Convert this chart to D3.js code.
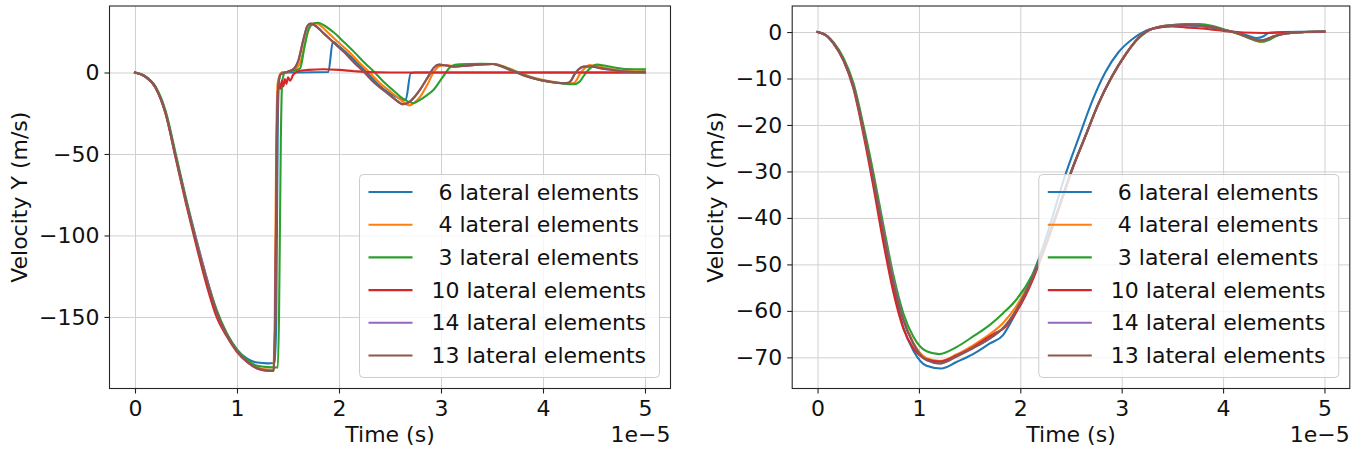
<!DOCTYPE html>
<html>
<head>
<meta charset="utf-8">
<script src="https://cdn.jsdelivr.net/npm/d3@7"></script>
<style>
  body { margin: 0; background: #fff; }
  svg { display: block; font-family: "DejaVu Sans", sans-serif; }
</style>
</head>
<body>
<script>
// time is in units of 1e-5 s (shown by the "1e−5" offset text)
const labels = ["\u00a06 lateral elements", "\u00a04 lateral elements", "\u00a03 lateral elements",
                "10 lateral elements", "14 lateral elements", "13 lateral elements"];
const xTicks = [0, 1, 2, 3, 4, 5];
const leftYTicks = [0, -50, -100, -150];
const rightYTicks = [0, -10, -20, -30, -40, -50, -60, -70];

// ---- left panel series [t, vy]
const left6 = [[0,0],[0.1,-2.5],[0.2,-9],[0.3,-24.5],[0.4,-51.5],[0.5,-78.5],[0.6,-103.5],[0.7,-126.5],[0.8,-146.5],[0.9,-160.5],[1.0,-170],[1.1,-175.5],[1.2,-178],[1.3,-178.5],[1.37,-178.3],[1.385,-150],[1.40,-30],[1.415,-3],[1.44,0],[1.6,0],[1.895,0.3],[1.94,18.8],[2.0,16],[2.1,10.5],[2.2,4.5],[2.28,-0.5],[2.38,-7],[2.48,-12],[2.58,-15.5],[2.654,-16.8],[2.703,-0.4],[2.75,0],[5.0,0]];
const left4 = [[0,0],[0.1,-2.5],[0.2,-9],[0.3,-24.5],[0.4,-51.5],[0.5,-78.5],[0.6,-103.5],[0.7,-126.5],[0.8,-146.5],[0.9,-160.5],[1.0,-170.5],[1.1,-177],[1.2,-181],[1.3,-182.3],[1.355,-182.5],[1.37,-150],[1.385,-40],[1.40,-6],[1.43,-0.5],[1.5,0.5],[1.57,2],[1.62,6],[1.67,19],[1.72,28.5],[1.765,30.3],[1.8,29.5],[1.9,24],[2.0,18.2],[2.1,12.5],[2.2,6],[2.3,0],[2.4,-6.5],[2.5,-11.5],[2.6,-16.5],[2.69,-20.2],[2.74,-18.5],[2.8,-14.5],[2.87,-7],[2.93,0.5],[3.0,4.2],[3.06,4.6],[3.13,3.8],[3.25,4.2],[3.4,5],[3.53,5.2],[3.63,3.4],[3.73,1],[3.83,-1.5],[3.93,-3.5],[4.03,-5],[4.13,-6],[4.24,-6.9],[4.30,-6.5],[4.33,-4.5],[4.36,-1],[4.40,2],[4.46,4.5],[4.52,4],[4.6,3],[4.7,1.8],[4.85,0.9],[5.0,0.7]];
const left3 = [[0,0],[0.1,-2.2],[0.2,-8.5],[0.3,-23.5],[0.4,-50],[0.5,-77],[0.6,-102],[0.7,-125.5],[0.8,-145.5],[0.9,-160],[1.0,-170],[1.1,-176.5],[1.2,-180],[1.3,-180.8],[1.40,-181],[1.412,-150],[1.43,-40],[1.443,-6],[1.47,0],[1.55,1],[1.618,2.5],[1.66,15],[1.70,26.5],[1.75,30],[1.797,30.5],[1.85,29],[1.95,24.5],[2.05,18.5],[2.15,12.5],[2.25,6],[2.35,0],[2.45,-6.5],[2.55,-12],[2.65,-17],[2.73,-18.8],[2.794,-16.8],[2.86,-14],[2.925,-10.7],[3.02,-2.5],[3.104,4],[3.18,5],[3.284,5.2],[3.40,5.3],[3.51,5.2],[3.6,3.8],[3.676,1.9],[3.775,-0.5],[3.87,-2.8],[3.97,-4.6],[4.07,-5.8],[4.17,-6.6],[4.30,-7.2],[4.36,-5.6],[4.40,-2],[4.43,0.5],[4.47,3],[4.526,4.8],[4.60,4.3],[4.657,3.6],[4.75,2.6],[4.82,2.1],[5.0,1.9]];
const left10 = [[0,0],[0.1,-2.5],[0.2,-9.2],[0.3,-25.5],[0.4,-53],[0.5,-80.5],[0.6,-106],[0.7,-130],[0.8,-150],[0.9,-162],[1.0,-171.5],[1.1,-177.8],[1.2,-181.8],[1.3,-183],[1.36,-183],[1.375,-150],[1.39,-50],[1.40,-14],[1.41,-6],[1.425,-10],[1.44,-5],[1.455,-8.5],[1.47,-4],[1.485,-7],[1.50,-3],[1.52,-5],[1.55,-1.5],[1.6,0.8],[1.7,1.6],[1.85,2],[2.0,1.6],[2.15,0.8],[2.3,0.2],[2.5,0],[5.0,0]];
const left14 = [[0,0],[0.1,-2.5],[0.2,-9],[0.3,-25],[0.4,-52],[0.5,-78.5],[0.6,-102.5],[0.7,-125.5],[0.8,-147],[0.9,-161],[1.0,-171],[1.1,-177.5],[1.2,-181.5],[1.3,-183],[1.36,-183.2],[1.375,-150],[1.39,-40],[1.405,-8],[1.43,-1],[1.5,0.5],[1.56,2.5],[1.6,7],[1.65,20],[1.69,28.5],[1.72,30],[1.76,29],[1.85,24],[1.95,18.2],[2.05,12.5],[2.15,6],[2.25,0],[2.35,-6.5],[2.45,-11.5],[2.55,-16.5],[2.63,-19.5],[2.68,-18.5],[2.74,-15],[2.8,-10],[2.87,-3],[2.93,3],[2.98,4.8],[3.05,4.3],[3.12,3.6],[3.25,4.2],[3.4,5],[3.51,5.2],[3.6,3.5],[3.7,1],[3.8,-1.5],[3.9,-3.5],[4.0,-5],[4.1,-6],[4.2,-6.6],[4.25,-6.3],[4.28,-4.5],[4.31,-1],[4.35,2],[4.40,3.6],[4.47,3.7],[4.55,2.8],[4.65,1.8],[4.8,0.6],[5.0,0.2]];
const left13 = [[0,0],[0.1,-2.5],[0.2,-9],[0.3,-25],[0.4,-52],[0.5,-79],[0.6,-104],[0.7,-127],[0.8,-147],[0.9,-161],[1.0,-171],[1.1,-177.5],[1.2,-181.5],[1.3,-183],[1.36,-183.2],[1.375,-150],[1.39,-40],[1.405,-8],[1.43,-1],[1.5,0.5],[1.56,2.5],[1.6,7],[1.65,20],[1.69,28.5],[1.72,30],[1.76,29],[1.85,24],[1.95,18.2],[2.05,12.5],[2.15,6],[2.25,0],[2.35,-6.5],[2.45,-11.5],[2.55,-16.5],[2.63,-19.5],[2.68,-18.5],[2.74,-15],[2.8,-10],[2.87,-3],[2.93,3],[2.98,4.8],[3.05,4.3],[3.12,3.6],[3.25,4.2],[3.4,5],[3.51,5.2],[3.6,3.5],[3.7,1],[3.8,-1.5],[3.9,-3.5],[4.0,-5],[4.1,-6],[4.2,-6.6],[4.25,-6.3],[4.28,-4.5],[4.31,-1],[4.35,2],[4.40,3.6],[4.47,3.7],[4.55,2.8],[4.65,1.8],[4.8,0.6],[5.0,0.2]];

// ---- right panel series [t, vy]
const right6 = [[0,0],[0.1,-1],[0.157,-2.4],[0.256,-6],[0.354,-11.8],[0.452,-21.2],[0.551,-32],[0.649,-43.8],[0.748,-55],[0.846,-63.5],[0.944,-68.5],[1.075,-71.8],[1.22,-72.4],[1.37,-71],[1.534,-69.3],[1.70,-67],[1.83,-65.2],[1.93,-61.5],[2.0,-58.3],[2.125,-52],[2.22,-46.5],[2.3,-41],[2.44,-31],[2.58,-22.5],[2.71,-14.8],[2.84,-8.6],[2.97,-4.3],[3.1,-1.6],[3.23,0.2],[3.37,1.0],[3.5,1.3],[3.63,1.4],[3.76,1.3],[3.9,0.9],[4.02,0.4],[4.15,-0.2],[4.25,-0.8],[4.33,-1.3],[4.40,-0.9],[4.45,-0.2],[4.6,0],[5,0.1]];
const right4 = [[0,0],[0.1,-1],[0.157,-2.4],[0.256,-5.9],[0.354,-11.5],[0.452,-20.7],[0.551,-31.4],[0.649,-42.9],[0.748,-53.6],[0.846,-61.7],[0.944,-66.8],[1.075,-70.2],[1.207,-70.8],[1.37,-69.4],[1.534,-67.4],[1.70,-65],[1.83,-62.6],[1.96,-59],[2.125,-52.4],[2.22,-47.5],[2.37,-38.5],[2.51,-29.6],[2.64,-22.5],[2.77,-15.4],[2.9,-9.7],[3.04,-4.7],[3.17,-1.2],[3.25,0.2],[3.37,1.2],[3.5,1.5],[3.63,1.6],[3.76,1.5],[3.9,1.1],[4.02,0.4],[4.15,-0.4],[4.25,-1.2],[4.37,-2.1],[4.45,-1.6],[4.52,-0.8],[4.62,-0.3],[4.8,0],[5,0.1]];
const right3 = [[0,0],[0.1,-0.9],[0.157,-2.2],[0.256,-5.6],[0.354,-11],[0.452,-20],[0.551,-30.3],[0.649,-41.5],[0.748,-52.3],[0.846,-60.5],[0.944,-65.5],[1.075,-68.7],[1.2,-69.3],[1.37,-67.8],[1.534,-65.5],[1.70,-63],[1.83,-60.5],[1.96,-57.6],[2.125,-52],[2.22,-47.3],[2.37,-38.3],[2.51,-29.5],[2.64,-22.4],[2.77,-15.5],[2.9,-9.8],[3.04,-4.8],[3.17,-1.3],[3.25,0.1],[3.37,1.1],[3.5,1.5],[3.63,1.7],[3.76,1.7],[3.9,1.3],[4.02,0.5],[4.15,-0.4],[4.25,-1.3],[4.38,-2.1],[4.45,-1.7],[4.52,-0.9],[4.62,-0.3],[4.8,0],[5,0.1]];
const right10 = [[0,0],[0.1,-1],[0.157,-2.5],[0.256,-6.2],[0.354,-12.2],[0.452,-22],[0.551,-33.3],[0.649,-45.3],[0.748,-56],[0.846,-63.8],[0.944,-68],[1.075,-70.4],[1.207,-70.9],[1.37,-69.6],[1.534,-67.8],[1.64,-66.3],[1.75,-64.8],[1.85,-63.5],[1.96,-60.3],[2.05,-56.8],[2.125,-53.2],[2.22,-47.8],[2.37,-38.6],[2.51,-29.7],[2.64,-22.6],[2.77,-15.5],[2.9,-9.8],[3.04,-4.8],[3.17,-1.2],[3.25,0.2],[3.37,1.0],[3.5,1.2],[3.63,1.0],[3.76,0.8],[3.9,0.5],[4.02,0.2],[4.2,-0.1],[4.4,-0.2],[4.6,-0.1],[5,0]];
const right14 = [[0,0],[0.1,-1],[0.157,-2.4],[0.256,-6],[0.354,-11.7],[0.452,-21],[0.551,-31.6],[0.649,-42.6],[0.748,-53.3],[0.846,-61.8],[0.944,-67],[1.075,-70.6],[1.207,-71.3],[1.37,-69.8],[1.534,-68],[1.70,-65.9],[1.83,-63.7],[1.96,-59.8],[2.125,-52.6],[2.22,-47.6],[2.37,-38.5],[2.51,-29.6],[2.64,-22.5],[2.77,-15.4],[2.9,-9.7],[3.04,-4.75],[3.17,-1.2],[3.25,0.2],[3.37,1.1],[3.5,1.4],[3.63,1.5],[3.76,1.4],[3.9,1.0],[4.02,0.4],[4.15,-0.3],[4.25,-1.1],[4.35,-1.8],[4.42,-1.6],[4.5,-0.9],[4.62,-0.3],[4.8,0],[5,0.1]];
const right13 = [[0,0],[0.1,-1],[0.157,-2.4],[0.256,-6],[0.354,-11.7],[0.452,-21],[0.551,-31.8],[0.649,-43.3],[0.748,-54],[0.846,-62],[0.944,-67],[1.075,-70.6],[1.207,-71.3],[1.37,-69.8],[1.534,-68],[1.70,-65.9],[1.83,-63.7],[1.96,-59.8],[2.125,-52.6],[2.22,-47.6],[2.37,-38.5],[2.51,-29.6],[2.64,-22.5],[2.77,-15.4],[2.9,-9.7],[3.04,-4.75],[3.17,-1.2],[3.25,0.2],[3.37,1.1],[3.5,1.4],[3.63,1.5],[3.76,1.4],[3.9,1.0],[4.02,0.4],[4.15,-0.3],[4.25,-1.1],[4.35,-1.8],[4.42,-1.6],[4.5,-0.9],[4.62,-0.3],[4.8,0],[5,0.1]];

const width = 1352, height = 452;
const fontSize = 22;
const color = d3.scaleOrdinal().domain(labels).range(d3.schemeCategory10);

const svg = d3.select("body").append("svg")
  .attr("width", width)
  .attr("height", height);

function drawPanel(p) {
  const x = d3.scaleLinear().domain([-0.25, 5.25]).range([p.left, p.right]);
  const y = d3.scaleLinear().domain(p.yDomain).range([p.bottom, p.top]);
  const g = svg.append("g");

  // grid
  g.append("g")
    .attr("transform", `translate(0,${p.bottom})`)
    .call(d3.axisBottom(x).tickValues(xTicks).tickSize(-(p.bottom - p.top)).tickFormat(""))
    .call(a => a.select(".domain").remove())
    .call(a => a.selectAll("line").attr("stroke", "#d0d0d0").attr("stroke-width", 1));
  g.append("g")
    .attr("transform", `translate(${p.left},0)`)
    .call(d3.axisLeft(y).tickValues(p.yTicks).tickSize(-(p.right - p.left)).tickFormat(""))
    .call(a => a.select(".domain").remove())
    .call(a => a.selectAll("line").attr("stroke", "#d0d0d0").attr("stroke-width", 1));

  // lines
  const clipId = "clip" + p.id;
  g.append("clipPath").attr("id", clipId)
    .append("rect").attr("x", p.left).attr("y", p.top)
    .attr("width", p.right - p.left).attr("height", p.bottom - p.top);

  const line = d3.line()
    .x(d => x(d[0]))
    .y(d => y(d[1]))
    .curve(d3.curveMonotoneX);

  g.append("g").attr("clip-path", `url(#${clipId})`)
    .selectAll("path")
    .data(p.series)
    .join("path")
    .attr("d", line)
    .attr("fill", "none")
    .attr("stroke", (d, i) => color(labels[i]))
    .attr("stroke-width", 2.1)
    .attr("stroke-linejoin", "round")
    .attr("stroke-linecap", "square");

  // axes
  const xAxis = g.append("g")
    .attr("transform", `translate(0,${p.bottom})`)
    .call(d3.axisBottom(x).tickValues(xTicks).tickSize(5).tickSizeOuter(0).tickPadding(7).tickFormat(d3.format("d")));
  const yAxis = g.append("g")
    .attr("transform", `translate(${p.left},0)`)
    .call(d3.axisLeft(y).tickValues(p.yTicks).tickSize(5).tickSizeOuter(0).tickPadding(5).tickFormat(d3.format("d")));
  [xAxis, yAxis].forEach(a => {
    a.select(".domain").remove();
    a.selectAll("line").attr("stroke", "#222").attr("stroke-width", 1.1);
    a.selectAll("text").attr("font-size", fontSize).attr("font-family", "DejaVu Sans").attr("fill", "#111");
  });

  // frame
  g.append("rect")
    .attr("x", p.left).attr("y", p.top)
    .attr("width", p.right - p.left).attr("height", p.bottom - p.top)
    .attr("fill", "none").attr("stroke", "#262626").attr("stroke-width", 1.1);

  // labels
  g.append("text")
    .attr("x", (p.left + p.right) / 2).attr("y", 442)
    .attr("text-anchor", "middle").attr("font-size", fontSize).attr("fill", "#111")
    .text("Time (s)");
  g.append("text")
    .attr("x", p.right).attr("y", 442)
    .attr("text-anchor", "end").attr("font-size", fontSize).attr("fill", "#111")
    .text("1e\u22125");
  g.append("text")
    .attr("transform", `translate(${p.ylabelX},${(p.top + p.bottom) / 2}) rotate(-90)`)
    .attr("text-anchor", "middle").attr("font-size", fontSize).attr("fill", "#111")
    .text("Velocity Y (m/s)");

  // legend (lower right)
  const lw = 300, lh = 203;
  const lx = p.right - 11 - lw, ly = p.bottom - 11 - lh;
  const leg = g.append("g").attr("transform", `translate(${lx},${ly})`);
  leg.append("rect")
    .attr("width", lw).attr("height", lh).attr("rx", 4)
    .attr("fill", "#fff").attr("fill-opacity", 0.8)
    .attr("stroke", "#cccccc").attr("stroke-width", 1);
  const item = leg.selectAll("g.item")
    .data(labels)
    .join("g")
    .attr("class", "item")
    .attr("transform", (d, i) => `translate(0,${17.5 + i * 32.7})`);
  item.append("line")
    .attr("x1", 9).attr("x2", 53)
    .attr("stroke", d => color(d)).attr("stroke-width", 2.1);
  item.append("text")
    .attr("x", 72).attr("y", 7.5)
    .attr("font-size", fontSize).attr("fill", "#111")
    .text(d => d);
}

drawPanel({
  id: "L", left: 109.5, right: 670.5, top: 6, bottom: 388.5,
  yDomain: [-193.9, 40.8], yTicks: leftYTicks, ylabelX: 26.5,
  series: [left6, left4, left3, left10, left14, left13]
});

drawPanel({
  id: "R", left: 792.2, right: 1349.8, top: 6, bottom: 388.5,
  yDomain: [-76.7, 5.6], yTicks: rightYTicks, ylabelX: 722.5,
  series: [right6, right4, right3, right10, right14, right13]
});
</script>
</body>
</html>
